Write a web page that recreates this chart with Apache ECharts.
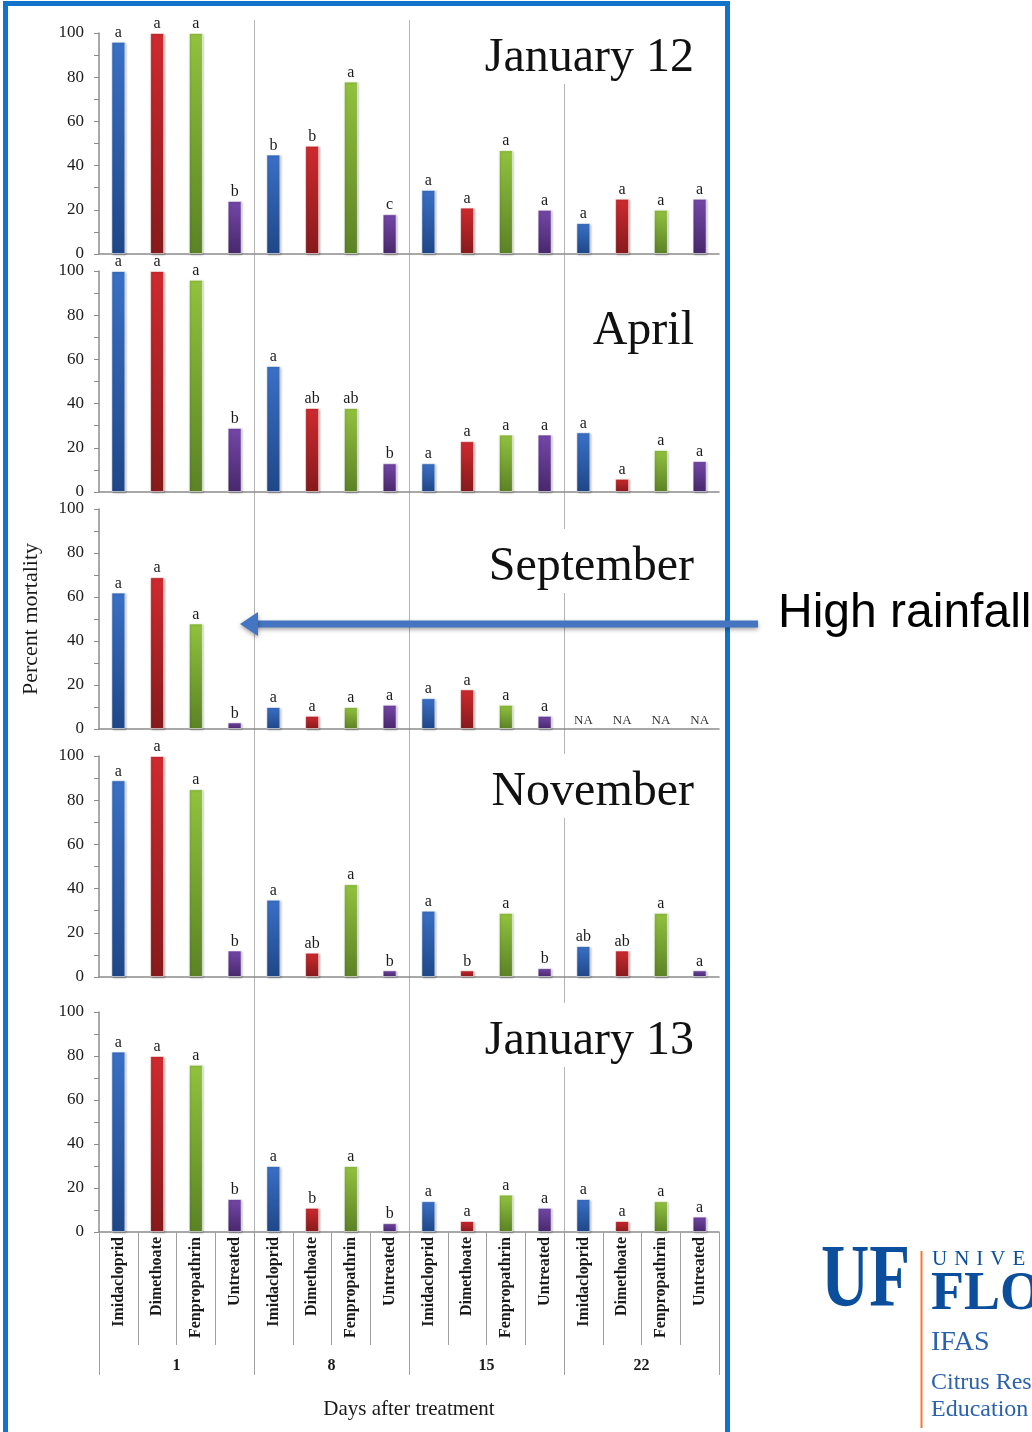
<!DOCTYPE html>
<html><head><meta charset="utf-8">
<script src="https://cdn.jsdelivr.net/npm/echarts@6/dist/echarts.min.js"></script>
<style>html,body{margin:0;padding:0;background:#fff}#c{width:1032px;height:1432px}</style>
</head><body><div id="c"></div>
<script>
// ---- data ----
const treatments = ['Imidacloprid', 'Dimethoate', 'Fenpropathrin', 'Untreated'];
const days = ['1', '8', '15', '22'];
const panelTitles = ['January 12', 'April', 'September', 'November', 'January 13'];
const yTicks = [0, 20, 40, 60, 80, 100];

const jan12 = [96, 100, 100, 24, 45, 49, 78, 18, 29, 21, 47, 20, 14, 25, 20, 25];
const jan12Letters = ['a','a','a','b','b','b','a','c','a','a','a','a','a','a','a','a'];
const april = [100, 100, 96, 29, 57, 38, 38, 13, 13, 23, 26, 26, 27, 6, 19, 14];
const aprilLetters = ['a','a','a','b','a','ab','ab','b','a','a','a','a','a','a','a','a'];
const september = [62, 69, 48, 3, 10, 6, 10, 11, 14, 18, 11, 6, null, null, null, null];
const septemberLetters = ['a','a','a','b','a','a','a','a','a','a','a','a','NA','NA','NA','NA'];
const november = [89, 100, 85, 12, 35, 11, 42, 3, 30, 3, 29, 4, 14, 12, 29, 3];
const novemberLetters = ['a','a','a','b','a','ab','a','b','a','b','a','b','ab','ab','a','a'];
const jan13 = [82, 80, 76, 15, 30, 11, 30, 4, 14, 5, 17, 11, 15, 5, 14, 7];
const jan13Letters = ['a','a','a','b','a','b','a','b','a','a','a','a','a','a','a','a'];

const panelValues = [jan12, april, september, november, jan13];
const panelLetters = [jan12Letters, aprilLetters, septemberLetters, novemberLetters, jan13Letters];

// ---- styling / layout ----
const categories = [];
days.forEach(d => treatments.forEach(t => categories.push(d + '|' + t)));
const SERIF = '"Liberation Serif", "Times New Roman", serif';
const SANS = '"Liberation Sans", Arial, sans-serif';
const TXT = '#1a1a1a';
const AX = '#8c8c8c';
const gradients = [
  ['#3a70c6', '#1f4788'],
  ['#cf2a2f', '#861a1c'],
  ['#92c23e', '#5b8226'],
  ['#7447a8', '#48286c']
];
const grids = [
  {top: 33, height: 221},
  {top: 271, height: 221},
  {top: 509, height: 220},
  {top: 756, height: 221},
  {top: 1012, height: 220}
];
const titleTops = [20, 293, 529, 754, 1003];
const LEFT = 99, RIGHT = 1032 - 719;
const SP = '\u2004';

const option = {
  animation: false,
  backgroundColor: '#ffffff',
  title: panelTitles.map((t, i) => ({
    text: t, right: 334, top: titleTops[i], padding: [14, 4, 2, 6],
    backgroundColor: '#ffffff', z: 8,
    textStyle: {fontFamily: SERIF, fontSize: 48, fontWeight: 'normal', color: '#111'}
  })),
  grid: grids.map(g => ({left: LEFT, right: RIGHT, top: g.top, height: g.height, outerBoundsMode: 'none', containLabel: false}))
    .concat([{left: LEFT, right: RIGHT, top: 20, height: 1212, outerBoundsMode: 'none', containLabel: false}]),
  xAxis: grids.map((g, i) => ({
    type: 'category', gridIndex: i, data: categories, position: 'bottom',
    axisLine: {show: true, lineStyle: {color: AX, width: 1.5}},
    axisTick: i === 4 ? {show: true, interval: 0, alignWithLabel: false, length: 113, lineStyle: {color: '#a0a0a0', width: 1}} : {show: false},
    axisLabel: i === 4 ? {show: true, interval: 0, rotate: 90, margin: 5, fontFamily: SERIF, fontSize: 16, fontWeight: 'bold', color: TXT,
      formatter: v => v.split('|')[1]} : {show: false},
    splitLine: {show: false}
  })).concat([
    {
      type: 'category', gridIndex: 4, data: days, position: 'bottom', offset: 0,
      axisLine: {show: false},
      axisTick: {show: true, interval: 0, alignWithLabel: false, length: 143, lineStyle: {color: '#a0a0a0', width: 1}},
      axisLabel: {show: true, interval: 0, margin: 126, fontFamily: SERIF, fontSize: 16, fontWeight: 'bold', color: TXT},
      name: 'Days after treatment', nameLocation: 'middle', nameGap: 167,
      nameTextStyle: {fontFamily: SERIF, fontSize: 21, color: TXT},
      splitLine: {show: false}
    },
    {
      // group separators spanning all panels
      type: 'value', gridIndex: 5, min: 0, max: categories.length, interval: treatments.length,
      axisLine: {show: false}, axisTick: {show: false}, axisLabel: {show: false},
      splitLine: {show: true, showMinLine: false, showMaxLine: false, lineStyle: {color: '#b4b4b4', width: 1}}
    }
  ]),
  yAxis: grids.map((g, i) => ({
    type: 'value', gridIndex: i, min: 0, max: 100, interval: 20,
    axisLine: {show: true, lineStyle: {color: AX, width: 1.5}},
    axisTick: {show: true, length: 5, lineStyle: {color: AX}},
    minorTick: {show: true, splitNumber: 2, length: 5, lineStyle: {color: AX}},
    minorSplitLine: {show: false},
    splitLine: {show: false},
    axisLabel: {show: true, margin: 15, fontFamily: SERIF, fontSize: 17, color: TXT,
      formatter: v => yTicks.includes(v) ? String(v) : ''},
    name: i === 2 ? 'Percent mortality' : '',
    nameLocation: 'middle', nameGap: 57,
    nameTextStyle: {fontFamily: SERIF, fontSize: 22, color: TXT}
  })).concat([{type: 'value', gridIndex: 5, min: 0, max: 1, show: false}]),
  series: panelValues.map((vals, p) => ({
    type: 'bar', xAxisIndex: p, yAxisIndex: p, barWidth: 14,
    data: vals.map((v, k) => {
      const g = gradients[k % 4];
      const na = v === null;
      return {
        value: na ? 0 : v,
        itemStyle: na ? {color: 'rgba(0,0,0,0)', borderWidth: 0} : {
          color: new echarts.graphic.LinearGradient(0, 0, 0, 1, [{offset: 0, color: g[0]}, {offset: 1, color: g[1]}]),
          borderColor: 'rgba(255,255,255,0.55)', borderWidth: 1,
          shadowColor: 'rgba(0,0,0,0.25)', shadowBlur: 2, shadowOffsetX: 1, shadowOffsetY: 1
        },
        label: {show: true, position: 'top', distance: na ? 2 : 1, formatter: panelLetters[p][k],
          fontFamily: SERIF, fontSize: na ? 13 : 16, color: na ? '#333' : TXT}
      };
    })
  })),
  graphic: [
    // blue frame
    {type: 'rect', z: 100, silent: true, shape: {x: 5.5, y: 3.5, width: 722, height: 1500},
      style: {fill: 'none', stroke: '#1173c9', lineWidth: 5}},
    // arrow shaft
    {type: 'rect', z: 101, silent: true, shape: {x: 252, y: 620.5, width: 506, height: 7},
      style: {fill: '#4574c0', shadowColor: 'rgba(0,0,0,0.35)', shadowBlur: 4, shadowOffsetY: 2}},
    // arrow head
    {type: 'polygon', z: 101, silent: true, shape: {points: [[240, 624], [258, 612], [258, 636]]},
      style: {fill: '#4574c0', shadowColor: 'rgba(0,0,0,0.35)', shadowBlur: 4, shadowOffsetY: 2}},
    {type: 'text', z: 101, silent: true, x: 778, y: 614,
      style: {text: 'High rainfall', font: '48px ' + SANS, fill: '#000', align: 'left', verticalAlign: 'middle'}},
    // UF logo
    {type: 'text', z: 101, silent: true, x: 821, y: 1282, scaleX: 0.76,
      style: {text: 'UF', font: 'bold 88px ' + SERIF, fill: '#0b4f9c', align: 'left', verticalAlign: 'middle'}},
    {type: 'rect', z: 101, silent: true, shape: {x: 920.5, y: 1251, width: 2, height: 177}, style: {fill: '#f3782a'}},
    {type: 'text', z: 101, silent: true, x: 932, y: 1259,
      style: {text: ['U','N','I','V','E','R','S','I','T','Y',' ','O','F'].join(SP), font: '21px ' + SERIF, fill: '#0b4f9c', align: 'left', verticalAlign: 'middle'}},
    {type: 'text', z: 101, silent: true, x: 931, y: 1295,
      style: {text: 'FLORIDA', font: 'bold 54px ' + SERIF, fill: '#0b4f9c', align: 'left', verticalAlign: 'middle'}},
    {type: 'text', z: 101, silent: true, x: 931, y: 1343,
      style: {text: 'IFAS', font: '28px ' + SERIF, fill: '#2c62ad', align: 'left', verticalAlign: 'middle'}},
    {type: 'text', z: 101, silent: true, x: 931, y: 1383,
      style: {text: 'Citrus Research and', font: '24px ' + SERIF, fill: '#2c62ad', align: 'left', verticalAlign: 'middle'}},
    {type: 'text', z: 101, silent: true, x: 931, y: 1410,
      style: {text: 'Education Center', font: '24px ' + SERIF, fill: '#2c62ad', align: 'left', verticalAlign: 'middle'}}
  ]
};

const chart = echarts.init(document.getElementById('c'), null, {renderer: 'canvas'});
chart.setOption(option);
</script>
</body></html>
